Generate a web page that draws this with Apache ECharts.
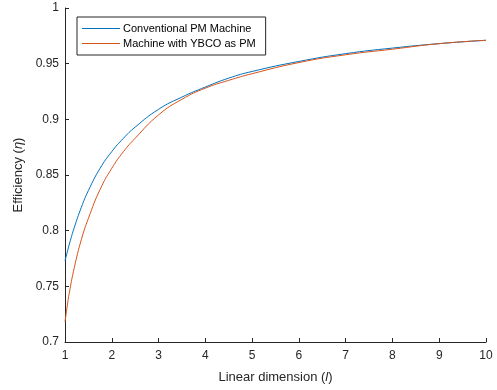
<!DOCTYPE html>
<html>
<head>
<meta charset="utf-8">
<script src="https://cdn.jsdelivr.net/npm/echarts@6/dist/echarts.min.js"></script>
<style>
  html, body { margin: 0; padding: 0; background: #fff; }
  #chart { width: 497px; height: 390px; }
</style>
</head>
<body>
<div id="chart"></div>
<script>
// Linear dimension (l) sample points
const lengths = [1, 1.05, 1.1, 1.2, 1.35, 1.5, 1.75, 2, 2.25, 2.5, 3, 3.5, 4, 4.5, 5, 6, 7, 8, 9, 10];

// Efficiency of the conventional PM machine
const conventionalEff = [0.773, 0.781, 0.789, 0.803, 0.821, 0.836, 0.856, 0.871, 0.883, 0.893, 0.909, 0.920, 0.929, 0.937, 0.943, 0.952, 0.959, 0.964, 0.968, 0.971];

// Efficiency of the machine using YBCO as permanent magnet
const ybcoEff = [0.718, 0.733, 0.746, 0.767, 0.792, 0.811, 0.837, 0.856, 0.871, 0.883, 0.904, 0.918, 0.928, 0.935, 0.941, 0.951, 0.958, 0.963, 0.968, 0.971];

const seriesNames = ['Conventional PM Machine', 'Machine with YBCO as PM'];

const pair = (xs, ys) => xs.map((x, i) => [x, ys[i]]);

const axisColor = '#262626';
const fontFamily = 'Liberation Sans, Arial, Helvetica, sans-serif';

const chart = echarts.init(document.getElementById('chart'), null, { renderer: 'canvas' });

chart.setOption({
  animation: false,
  backgroundColor: '#ffffff',
  textStyle: { fontFamily: fontFamily },
  grid: { left: 65, right: 11, top: 8, bottom: 48, containLabel: false },
  legend: {
    orient: 'vertical',
    left: 77,
    top: 17,
    data: seriesNames,
    icon: 'rect',
    itemWidth: 38,
    itemHeight: 1.2,
    itemGap: 4,
    itemStyle: { borderWidth: 0 },
    padding: [6, 10, 6, 5],
    borderColor: '#262626',
    borderWidth: 1,
    backgroundColor: '#ffffff',
    borderRadius: 0,
    textStyle: { fontSize: 11, color: '#000', fontFamily: fontFamily, padding: [0, 0, 0, -2] }
  },
  xAxis: {
    type: 'value',
    min: 1,
    max: 10,
    interval: 1,
    name: 'Linear dimension ({i|l})',
    nameLocation: 'middle',
    nameGap: 29,
    nameTextStyle: {
      fontSize: 13, color: axisColor, fontFamily: fontFamily,
      rich: { i: { fontSize: 13, fontStyle: 'italic', color: axisColor, fontFamily: fontFamily } }
    },
    axisLine: { show: true, onZero: false, lineStyle: { color: axisColor, width: 1 } },
    axisTick: { show: true, inside: true, length: 4, lineStyle: { color: axisColor } },
    axisLabel: { fontSize: 12, color: axisColor, margin: 8 },
    splitLine: { show: false }
  },
  yAxis: {
    type: 'value',
    min: 0.7,
    max: 1,
    interval: 0.05,
    name: 'Efficiency ({i|η})',
    nameLocation: 'middle',
    nameGap: 40,
    nameTextStyle: {
      fontSize: 13, color: axisColor, fontFamily: fontFamily,
      rich: { i: { fontSize: 13, fontStyle: 'italic', color: axisColor, fontFamily: fontFamily } }
    },
    axisLine: { show: true, onZero: false, lineStyle: { color: axisColor, width: 1 } },
    axisTick: { show: true, inside: true, length: 4, lineStyle: { color: axisColor } },
    axisLabel: { fontSize: 12, color: axisColor, margin: 6 },
    splitLine: { show: false }
  },
  series: [
    {
      name: seriesNames[0],
      type: 'line',
      data: pair(lengths, conventionalEff),
      smooth: 0.5,
      symbol: 'none',
      color: '#0072BD',
      lineStyle: { color: '#0072BD', width: 1 }
    },
    {
      name: seriesNames[1],
      type: 'line',
      data: pair(lengths, ybcoEff),
      smooth: 0.5,
      symbol: 'none',
      color: '#D95319',
      lineStyle: { color: '#D95319', width: 1 }
    }
  ]
});
</script>
</body>
</html>
